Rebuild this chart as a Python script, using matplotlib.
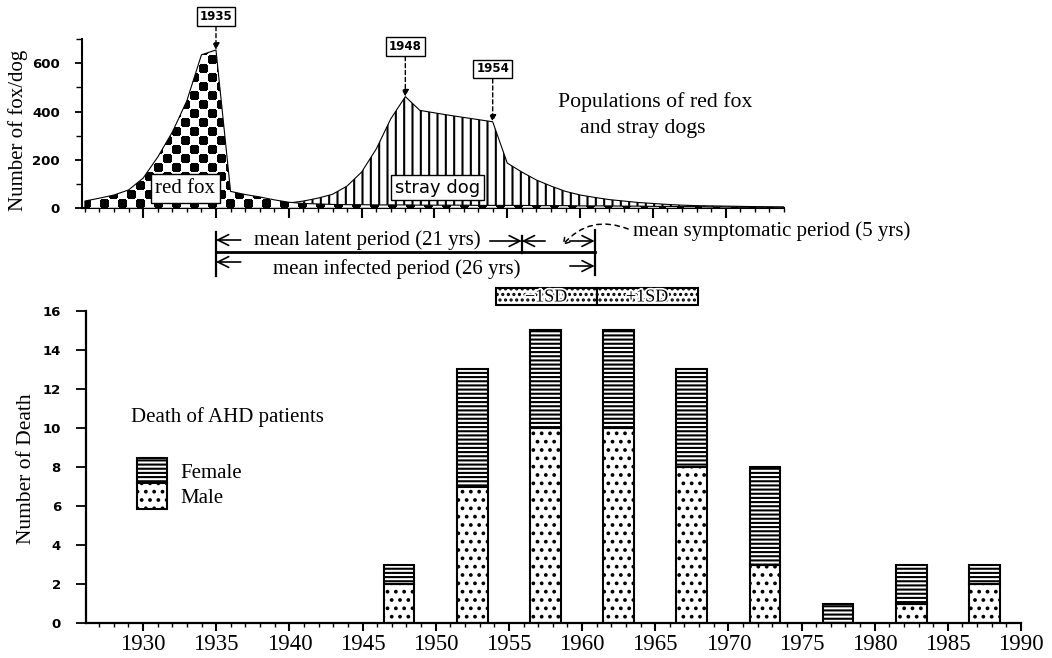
import numpy as np
import matplotlib.pyplot as plt
import matplotlib.patheffects as pe
from matplotlib.patches import Rectangle
from matplotlib.ticker import MultipleLocator

plt.rcParams['font.family'] = 'Liberation Serif'
plt.rcParams['hatch.linewidth'] = 1.5

W, H = 1052, 658

# populations
fox_years = list(range(1926, 1975))
fox = [30, 42, 55, 76, 125, 212, 315, 445, 635, 655, 70, 57, 47, 35, 25,
       20, 18, 16, 15, 15, 14, 14, 14, 13, 13, 13, 13, 12, 12, 12, 12, 11,
       11, 11, 10, 10, 10, 9, 9, 8, 8, 7, 7, 6, 6, 5, 5, 5, 5]
dog_years = list(range(1939, 1975))
dog = [15, 22, 30, 42, 58, 92, 150, 245, 370, 462, 405, 395, 385, 376, 367,
       358, 187, 150, 117, 92, 70, 55, 45, 36, 30, 24, 20, 16, 13, 11, 10,
       9, 8, 7, 6, 5]
peaks = [1935, 1948, 1954]

# deaths of AHD patients, 5-year bins
bin_centers = [1947.5, 1952.5, 1957.5, 1962.5, 1967.5, 1972.5, 1977.5, 1982.5, 1987.5]
male = [2, 7, 10, 10, 8, 3, 0, 1, 2]
female = [1, 6, 5, 5, 5, 5, 1, 2, 1]
death_mean, death_sd = 1961.0, 6.9

infect_year = 1935
latent_yrs = 21
sympt_yrs = 5


def ax_rect(left, top, right, bottom):
    return [left / W, 1 - bottom / H, (right - left) / W, (bottom - top) / H]


fig = plt.figure(figsize=(W / 100, H / 100), dpi=100)
ax1 = fig.add_axes(ax_rect(82, 39.1, 784, 208.3))
ax2 = fig.add_axes(ax_rect(86, 311, 1021, 623))

sans = dict(family='DejaVu Sans', weight='bold')

# ---------- top panel ----------
ax1.fill_between(dog_years, 0, dog, facecolor='white', edgecolor='black',
                 hatch='||', lw=0.8, zorder=1)
fox_poly = ax1.fill_between(fox_years, 0, fox, facecolor='white',
                            edgecolor='none', zorder=2)
# checker texture for the red fox area (black discs on a checkerboard)
nx, ny, cell = 702, 170, 9
yy, xx = np.mgrid[0:ny, 0:nx]
fx = (xx % cell) - (cell - 1) / 2
fy = (yy % cell) - (cell - 1) / 2
dark = (((xx // cell) + (yy // cell)) % 2 == 0) & (np.hypot(fx, fy) <= cell * 0.58)
tex = np.where(dark, 0.0, 1.0)
im = ax1.imshow(tex, cmap='gray', vmin=0, vmax=1, origin='lower',
                extent=(1925.8, 1974, 0, 700), aspect='auto',
                interpolation='nearest', zorder=3)
im.set_clip_path(fox_poly.get_paths()[0], transform=ax1.transData)
ax1.fill_between(fox_years, 0, fox, facecolor='none', edgecolor='black',
                 lw=0.8, zorder=4)
ax1.set_xlim(1925.8, 1974)
ax1.set_ylim(0, 700)

for s in ['top', 'right']:
    ax1.spines[s].set_visible(False)
ax1.spines['left'].set_linewidth(1.5)
ax1.spines['bottom'].set_linewidth(1.5)
ax1.set_xticks(range(1930, 1975, 5))
ax1.xaxis.set_minor_locator(MultipleLocator(1))
ax1.set_xticklabels([])
ax1.set_yticks([0, 200, 400, 600])
ax1.yaxis.set_minor_locator(MultipleLocator(100))
ax1.tick_params(axis='x', which='major', length=7, width=1.5, direction='out')
ax1.tick_params(axis='x', which='minor', length=3, width=1, direction='out')
ax1.tick_params(axis='y', which='major', length=5, width=1.3, direction='out', pad=11)
ax1.tick_params(axis='y', which='minor', length=4, width=1, direction='out')
for t in ax1.get_yticklabels():
    t.set_fontfamily('DejaVu Sans')
    t.set_fontweight('bold')
    t.set_fontsize(9.5)
ax1.set_ylabel('Number of fox/dog', fontsize=15)
ax1.yaxis.set_label_coords(-0.077, 0.46)

ax1.text(1932.9, 82, 'red fox', fontsize=15, ha='center', va='center', zorder=6,
         bbox=dict(boxstyle='square,pad=0.22', fc='white', ec='black', lw=1))
ax1.text(1950.2, 86, 'stray dog', fontsize=13, ha='center', va='center', zorder=6,
         family='DejaVu Sans',
         bbox=dict(boxstyle='square,pad=0.2', fc='white', ec='black', lw=1))

offsets = [24, 36, 38]
for yr, off in zip(peaks, offsets):
    if yr in dog_years and dog[dog_years.index(yr)] > fox[fox_years.index(yr)]:
        val = dog[dog_years.index(yr)]
    else:
        val = fox[fox_years.index(yr)]
    ax1.annotate(str(yr), xy=(yr, val), xytext=(0, off), textcoords='offset points',
                 ha='center', va='center', fontsize=8.5, annotation_clip=False, zorder=7,
                 bbox=dict(boxstyle='square,pad=0.25', fc='white', ec='black', lw=1),
                 arrowprops=dict(arrowstyle='-|>', linestyle=(0, (3, 2)), lw=1,
                                 color='black', shrinkA=0, shrinkB=0, mutation_scale=10),
                 **sans)

fig.text(558 / W, 1 - 102 / H, 'Populations of red fox', fontsize=15.7, va='center')
fig.text(580 / W, 1 - 128 / H, 'and stray dogs', fontsize=15.7, va='center')


# ---------- period arrows ----------
def v(ypx):
    return (208.3 - ypx) / 0.2417


end_latent = infect_year + latent_yrs
end_sympt = end_latent + sympt_yrs
kw = dict(annotation_clip=False)
ap = dict(arrowstyle='->,head_length=0.6,head_width=0.3', lw=1.2, color='black',
          shrinkA=0, shrinkB=0, mutation_scale=13)

ax1.plot([infect_year, end_sympt], [v(252), v(252)], color='black', lw=2, clip_on=False)
ax1.plot([infect_year, infect_year], [v(232), v(276)], color='black', lw=1.6, clip_on=False)
ax1.plot([end_latent, end_latent], [v(236), v(253)], color='black', lw=1.6, clip_on=False)
ax1.plot([end_sympt, end_sympt], [v(230), v(275)], color='black', lw=1.6, clip_on=False)

ax1.annotate('', xy=(infect_year, v(240)), xytext=(infect_year + 1.7, v(240)), arrowprops=ap, **kw)
ax1.annotate('', xy=(end_latent, v(241)), xytext=(end_latent - 2.2, v(241)), arrowprops=ap, **kw)
ax1.annotate('', xy=(end_latent, v(241)), xytext=(end_latent + 1.6, v(241)), arrowprops=ap, **kw)
ax1.annotate('', xy=(end_sympt, v(241)), xytext=(end_sympt - 1.7, v(241)), arrowprops=ap, **kw)
ax1.annotate('', xy=(infect_year, v(262)), xytext=(infect_year + 1.7, v(262)), arrowprops=ap, **kw)
ax1.annotate('', xy=(end_sympt, v(266)), xytext=(end_sympt - 1.7, v(266)), arrowprops=ap, **kw)

ax1.text((infect_year + end_latent) / 2 - 0.1, v(240), 'mean latent period (21 yrs)',
         fontsize=15, ha='center', va='center', clip_on=False)
ax1.text(1947.4, v(269), 'mean infected period (26 yrs)',
         fontsize=15, ha='center', va='center', clip_on=False)
ax1.text(end_sympt + 2.6, v(231), 'mean symptomatic period (5 yrs)',
         fontsize=15, ha='left', va='center', clip_on=False)
ax1.annotate('', xy=(end_latent + 2.8, v(245)), xytext=(end_sympt + 2.3, v(229)),
             arrowprops=dict(arrowstyle='->,head_length=0.4,head_width=0.25', lw=1.1,
                             linestyle=(0, (3, 3)), color='black', shrinkA=0, shrinkB=0,
                             connectionstyle='arc3,rad=0.35', mutation_scale=10), **kw)

# ---------- bottom panel ----------
ax2.set_xlim(1926.1, 1990)
ax2.set_ylim(0, 16)
b_m = ax2.bar(bin_centers, male, width=2.1, facecolor='white', edgecolor='black',
              hatch='..', lw=1.5, label='Male')
b_f = ax2.bar(bin_centers, female, width=2.1, bottom=male, facecolor='white',
              edgecolor='black', hatch='----', lw=1.5, label='Female')

for s in ['top', 'right']:
    ax2.spines[s].set_visible(False)
ax2.spines['left'].set_linewidth(1.6)
ax2.spines['bottom'].set_linewidth(1.6)
ax2.set_xticks(range(1930, 1991, 5))
ax2.xaxis.set_minor_locator(MultipleLocator(1))
ax2.set_yticks(range(0, 17, 2))
ax2.tick_params(axis='x', which='major', length=6, width=1.5, direction='out', pad=2,
                labelsize=16.5)
ax2.tick_params(axis='x', which='minor', length=3, width=1, direction='out')
ax2.tick_params(axis='y', which='major', length=7, width=1.3, direction='out', pad=11)
for t in ax2.get_yticklabels():
    t.set_fontfamily('DejaVu Sans')
    t.set_fontweight('bold')
    t.set_fontsize(9.5)
ax2.set_ylabel('Number of Death', fontsize=15.5)
ax2.yaxis.set_label_coords(-0.054, 0.495)

ax2.text(0.048, 0.66, 'Death of AHD patients', transform=ax2.transAxes,
         fontsize=15, va='center')
ax2.legend(handles=[b_f, b_m], loc='upper left', bbox_to_anchor=(0.0545, 0.529),
           frameon=False, borderpad=0, borderaxespad=0, labelspacing=0,
           handlelength=1.45, handleheight=1.5, handletextpad=0.65, fontsize=15)

for lo, hi, lab in [(death_mean - death_sd, death_mean, '\u22121SD'),
                    (death_mean, death_mean + death_sd, '+1SD')]:
    ax2.add_patch(Rectangle((lo, 16.3), hi - lo, 0.9, facecolor='white',
                            edgecolor='black', hatch='...', lw=1.5, clip_on=False,
                            zorder=2))
    ax2.text((lo + hi) / 2, 16.72, lab, fontsize=13, ha='center', va='center',
             color='black', clip_on=False, zorder=5,
             path_effects=[pe.withStroke(linewidth=2.5, foreground='white')])

fig.savefig('out.png', dpi=100)
